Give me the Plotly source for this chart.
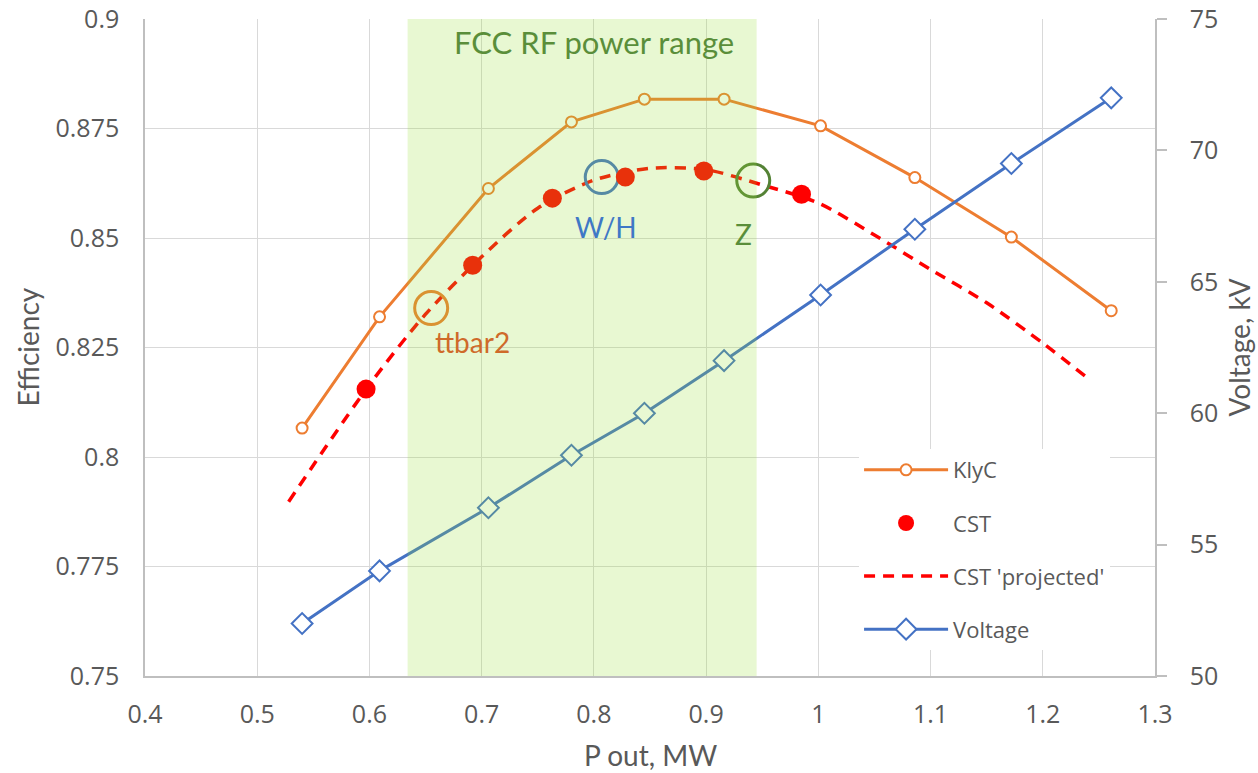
import plotly.graph_objects as go

# Output power (MW) shared by the KlyC and voltage curves
p_out = [0.540, 0.609, 0.706, 0.780, 0.845, 0.916, 1.002, 1.086, 1.172, 1.261]
klyc_eff = [0.8066, 0.8320, 0.8613, 0.8765, 0.8817, 0.8817, 0.8756, 0.8638, 0.8502, 0.8334]
voltage_kv = [52.0, 54.0, 56.4, 58.4, 60.0, 62.0, 64.5, 67.0, 69.5, 72.0]

# CST simulation points
cst_p = [0.597, 0.692, 0.763, 0.828, 0.898, 0.985]
cst_eff = [0.8155, 0.8438, 0.8591, 0.8639, 0.8653, 0.8600]

# CST projected curve
proj_p = [0.528, 0.60, 0.65, 0.70, 0.75, 0.80, 0.85, 0.90, 0.95, 1.00,
          1.05, 1.10, 1.15, 1.20, 1.24]
proj_eff = [0.7898, 0.8165, 0.8326, 0.8457, 0.8568, 0.8632, 0.8659, 0.8656,
            0.8621, 0.8580, 0.8507, 0.8428, 0.8352, 0.8260, 0.8180]

# FCC operating points
op_names = ["ttbar2", "W/H", "Z"]
op_p = [0.655, 0.807, 0.942]
op_eff = [0.8340, 0.8639, 0.8631]
op_colors = ["#ED7D31", "#4472C4", "#548235"]
op_text_colors = ["#CF6A2A", "#3F78C6", "#5A8E3A"]
op_text_p = [0.692, 0.811, 0.933]
op_text_eff = [0.8262, 0.8526, 0.8510]

# FCC RF power range band
band_p = [0.634, 0.945]

# Axis ticks
x_ticks = [0.4, 0.5, 0.6, 0.7, 0.8, 0.9, 1.0, 1.1, 1.2, 1.3]
x_labels = ["0.4", "0.5", "0.6", "0.7", "0.8", "0.9", "1", "1.1", "1.2", "1.3"]
y_ticks = [0.75, 0.775, 0.8, 0.825, 0.85, 0.875, 0.9]
y_labels = ["0.75", "0.775", "0.8", "0.825", "0.85", "0.875", "0.9"]
y2_ticks = [50, 55, 60, 65, 70, 75]
y2_labels = ["50", "55", "60", "65", "70", "75"]

GRID = "#D9D9D9"
AXIS = "#BFBFBF"
TXT = "#595959"
TICK_FONT = dict(family="Open Sans", size=25, color=TXT)
TITLE_FONT = dict(family="Lato", size=28, color=TXT)

fig = go.Figure()

fig.add_trace(go.Scatter(
    x=p_out, y=klyc_eff, name="KlyC", mode="lines+markers",
    line=dict(color="#ED7D31", width=3),
    marker=dict(symbol="circle", size=11, color="white",
                line=dict(color="#ED7D31", width=2)),
    legendgroup="a", legendrank=1,
))

fig.add_trace(go.Scatter(
    x=proj_p, y=proj_eff, name="CST 'projected'", mode="lines",
    line=dict(color="#FF0000", width=3.5, dash="11px,8px", shape="spline",
              smoothing=0.8),
    legendgroup="c", legendrank=3,
))

for name, px_, ef, col in zip(op_names, op_p, op_eff, op_colors):
    fig.add_trace(go.Scatter(
        x=[px_], y=[ef], mode="markers", showlegend=False, hoverinfo="skip",
        marker=dict(symbol="circle-open", size=33, color=col,
                    line=dict(color=col, width=3)),
        name=name,
    ))

fig.add_trace(go.Scatter(
    x=cst_p, y=cst_eff, name="CST", mode="markers",
    marker=dict(symbol="circle", size=19, color="#FF0000"),
    legendgroup="b", legendrank=2,
))

fig.add_trace(go.Scatter(
    x=p_out, y=voltage_kv, name="Voltage", mode="lines+markers", yaxis="y2",
    line=dict(color="#4472C4", width=3),
    marker=dict(symbol="diamond", size=16, color="white",
                line=dict(color="#4472C4", width=2)),
    legendgroup="d", legendrank=4,
))

# translucent band over the FCC RF power range
fig.add_shape(type="rect", xref="x", yref="paper",
              x0=band_p[0], x1=band_p[1], y0=0, y1=1,
              fillcolor="rgba(150,225,50,0.22)", line=dict(width=0),
              layer="above")

annotations = [
    dict(text="FCC RF power range", x=0.8, y=0.8947, xref="x", yref="y",
         showarrow=False, font=dict(family="Lato", size=31, color="#5A8E3A"),
         xanchor="center", yanchor="middle"),
    dict(text="Efficiency", x=(27 - 145) / 1010, y=0.5, xref="paper",
         yref="paper", showarrow=False, textangle=-90, font=TITLE_FONT,
         xanchor="center", yanchor="middle"),
    dict(text="P out, MW", x=0.5, y=(676 - 755) / 657, xref="paper",
         yref="paper", showarrow=False, font=TITLE_FONT,
         xanchor="center", yanchor="middle"),
    dict(text="Voltage, kV", x=1.0822, y=0.5, xref="paper", yref="paper",
         showarrow=False, textangle=-90, font=TITLE_FONT,
         xanchor="center", yanchor="middle"),
]
for name, tx, ty, col in zip(op_names, op_text_p, op_text_eff, op_text_colors):
    annotations.append(dict(
        text=name, x=tx, y=ty, xref="x", yref="y", showarrow=False,
        font=dict(family="Lato", size=28, color=col),
        xanchor="center", yanchor="middle"))

fig.update_layout(
    width=1258, height=773,
    margin=dict(l=145, r=103, t=19, b=97, autoexpand=False),
    paper_bgcolor="white", plot_bgcolor="white",
    showlegend=True,
    legend=dict(
        x=0.707, y=0.3454, xanchor="left", yanchor="top",
        bgcolor="white", borderwidth=0,
        font=dict(family="Open Sans", size=22, color=TXT),
        itemwidth=84, traceorder="grouped", tracegroupgap=21.5,
        entrywidth=185, entrywidthmode="pixels",
    ),
    xaxis=dict(
        range=[0.4, 1.3], tickvals=x_ticks, ticktext=x_labels,
        showgrid=True, gridcolor=GRID, gridwidth=1.3, automargin=False,
        showline=True, linecolor=AXIS, linewidth=1.5, mirror=False,
        ticks="", zeroline=False, tickfont=TICK_FONT, ticklabelstandoff=15,
    ),
    yaxis=dict(
        range=[0.75, 0.9], tickvals=y_ticks, ticktext=y_labels,
        showgrid=True, gridcolor=GRID, gridwidth=1.3, automargin=False,
        showline=True, linecolor=AXIS, linewidth=1.5,
        ticks="", zeroline=False, tickfont=TICK_FONT, ticklabelstandoff=19,
    ),
    yaxis2=dict(
        range=[50, 75], tickvals=y2_ticks, ticktext=y2_labels,
        overlaying="y", side="right", showgrid=False, automargin=False,
        showline=True, linecolor=AXIS, linewidth=1.5,
        ticks="outside", ticklen=10, tickcolor=AXIS, tickwidth=1.5,
        zeroline=False, tickfont=TICK_FONT, ticklabelstandoff=18,
    ),
    annotations=annotations,
)

fig.write_html("out.html")
